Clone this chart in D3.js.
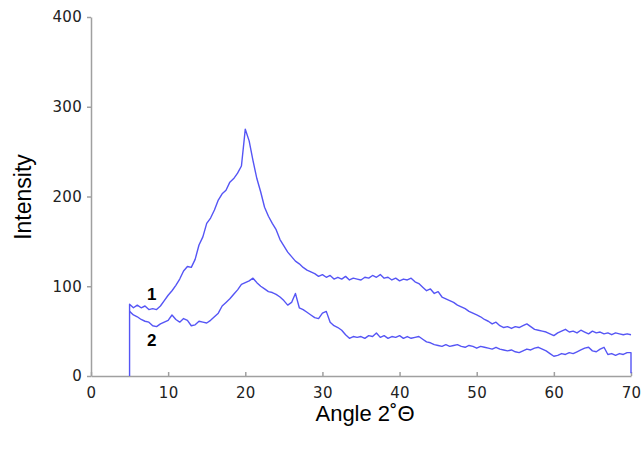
<!DOCTYPE html>
<html>
<head>
<meta charset="utf-8">
<script src="https://cdn.jsdelivr.net/npm/d3@7"></script>
<style>
  body { margin: 0; background: #fff; }
  svg { display: block; }
</style>
</head>
<body>
<div id="chart"></div>
<script>
// Sampling grid of the diffraction scans (2θ, degrees)
const angles = d3.range(5, 70.001, 0.5);

// Sample 1 intensity
const sample1 = [80, 76, 79, 76, 78, 74, 75, 74, 78, 84, 90, 95, 101, 108, 117, 122, 121, 130, 146, 155,
  170, 176, 185, 196, 203, 207, 216, 220, 226, 234, 275, 262, 240, 220, 205, 188, 178, 170, 163, 152,
  145, 138, 133, 128, 125, 121, 118, 116, 114, 111, 113, 110, 112, 108, 110, 108, 111, 107, 109, 108,
  107, 110, 109, 112, 110, 113, 109, 110, 107, 109, 106, 108, 107, 109, 105, 103, 99, 95, 97, 92,
  94, 88, 86, 84, 82, 79, 77, 75, 72, 70, 68, 66, 63, 61, 58, 60, 56, 54, 55, 53,
  55, 54, 56, 58, 55, 52, 51, 50, 49, 47, 45, 48, 50, 52, 49, 50, 48, 51, 49, 47,
  50, 48, 49, 47, 48, 46, 48, 47, 46, 47, 46];

// Sample 2 intensity
const sample2 = [72, 68, 66, 63, 61, 60, 56, 55, 58, 60, 62, 68, 63, 60, 64, 62, 56, 57, 61, 60,
  59, 62, 66, 70, 78, 82, 86, 91, 96, 102, 104, 106, 109, 104, 100, 97, 94, 93, 91, 88,
  84, 79, 82, 92, 76, 74, 71, 68, 65, 64, 70, 72, 60, 56, 54, 51, 46, 42, 44, 43,
  44, 42, 45, 44, 48, 43, 45, 42, 44, 43, 45, 42, 44, 42, 43, 44, 41, 38, 37, 35,
  34, 33, 35, 33, 34, 35, 33, 32, 34, 33, 31, 33, 32, 31, 30, 32, 30, 29, 28, 29,
  27, 26, 28, 30, 29, 31, 32, 30, 28, 25, 22, 23, 25, 24, 26, 25, 27, 29, 31, 32,
  28, 27, 30, 32, 24, 25, 23, 25, 24, 26, 26];

// Detector edges (start / end of scan)
const start1 = [[5, 0]];
const end2 = [[70, 3]];

const xTicks = [0, 10, 20, 30, 40, 50, 60, 70];
const yTicks = [0, 100, 200, 300, 400];

const width = 644, height = 450;
const svg = d3.select('#chart').append('svg')
  .attr('width', width)
  .attr('height', height);

const x = d3.scaleLinear().domain([0, 70]).range([91, 631]);
const y = d3.scaleLinear().domain([0, 400]).range([376, 17]);

// Axes
const xAxis = svg.append('g')
  .attr('transform', `translate(0,${y(0)})`)
  .call(d3.axisBottom(x).tickValues(xTicks).tickSizeInner(-4).tickSizeOuter(0).tickPadding(11));
const yAxis = svg.append('g')
  .attr('transform', `translate(${x(0)},0)`)
  .call(d3.axisLeft(y).tickValues(yTicks).tickSizeInner(4).tickSizeOuter(0).tickPadding(5));

[xAxis, yAxis].forEach(a => {
  a.select('.domain').attr('stroke', '#a0a0a0').attr('stroke-width', 1.5);
  a.selectAll('.tick line').attr('stroke', '#a0a0a0').attr('stroke-width', 1.5);
  a.selectAll('.tick text')
    .attr('fill', '#222')
    .style('font-family', '"DejaVu Sans", Verdana, sans-serif')
    .style('font-size', '15px')
    .style('letter-spacing', '0.3px');
});

// Curves
const line = d3.line().x(d => x(d[0])).y(d => y(d[1]));
const pts1 = start1.concat(angles.map((a, i) => [a, sample1[i]]));
const pts2 = angles.map((a, i) => [a, sample2[i]]).concat(end2);

[pts1, pts2].forEach(p => {
  svg.append('path')
    .datum(p)
    .attr('d', line)
    .attr('fill', 'none')
    .attr('stroke', '#5555f5')
    .attr('stroke-width', 1.4)
    .attr('stroke-linejoin', 'round');
});

// Curve labels
svg.append('text').attr('x', 147).attr('y', 300).text('1')
  .style('font-family', '"Liberation Sans", Arial, sans-serif')
  .style('font-weight', 'bold').style('font-size', '17px');
svg.append('text').attr('x', 147).attr('y', 346).text('2')
  .style('font-family', '"Liberation Sans", Arial, sans-serif')
  .style('font-weight', 'bold').style('font-size', '17px');

// Axis titles
svg.append('text')
  .attr('x', 365).attr('y', 421)
  .attr('text-anchor', 'middle')
  .style('font-family', '"Liberation Sans", Arial, sans-serif')
  .style('font-size', '22px')
  .text('Angle 2˚Θ');

svg.append('text')
  .attr('transform', 'translate(31,197) rotate(-90)')
  .attr('text-anchor', 'middle')
  .style('font-family', '"Liberation Sans", Arial, sans-serif')
  .style('font-size', '23px')
  .text('Intensity');
</script>
</body>
</html>
